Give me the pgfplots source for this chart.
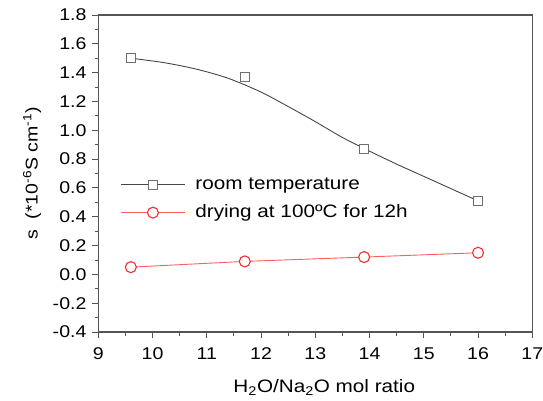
\documentclass[border=0pt]{standalone}
\usepackage{fontspec}
\setmainfont{Liberation Sans}[FakeStretch=1.15]
\usepackage{pgfplots}
\pgfplotsset{compat=1.18}
\definecolor{axgray}{RGB}{85,85,85}
\definecolor{curvegray}{RGB}{70,70,70}
\definecolor{markgray}{RGB}{110,110,110}
\definecolor{linered}{RGB}{255,95,95}
\definecolor{markred}{RGB}{245,45,45}

\begin{document}
\fontsize{17bp}{20bp}\selectfont
\begin{tikzpicture}
\begin{axis}[
    name=ax,
    scale only axis,
    width=434bp, height=317bp,
    xmin=9, xmax=17, ymin=-0.4, ymax=1.8,
    xtick={9,10,11,12,13,14,15,16,17},
    ytick={-0.4,-0.2,0,0.2,0.4,0.6,0.8,1.0,1.2,1.4,1.6,1.8},
    minor x tick num=1, minor y tick num=1,
    tick pos=left, tick align=outside,
    yticklabel style={/pgf/number format/.cd, fixed, fixed zerofill, precision=1},
    xticklabel style={yshift=-4bp},
    /pgf/number format/assume math mode=true,
    axis line style={axgray, line width=1.1bp},
    tick style={axgray, line width=0.9bp},
    major tick length=6bp, minor tick length=3.5bp,
    xlabel={H\textsubscript{2}O/Na\textsubscript{2}O mol ratio},
    xlabel style={yshift=-8bp, xshift=9bp, font=\fontsize{18bp}{21bp}\selectfont},
    ylabel={s\ \ (*10\textsuperscript{-6}S cm\textsuperscript{-1})},
    legend cell align=left,
    legend style={draw=none, fill=none, at={(axis cs:9.35,0.70)}, anchor=north west,
        row sep=9bp, font=\fontsize{18bp}{21bp}\selectfont,
        nodes={inner xsep=10bp}},
    legend image code/.code={\draw[mark repeat=2,mark phase=2,#1] plot coordinates {(0bp,0bp) (32bp,0bp) (64bp,0bp)};},
]
% fitted curve for room temperature
\addplot[curvegray, line width=0.9bp, smooth, tension=0.5, forget plot] coordinates {
    (9.6,1.50) (10.2,1.47) (10.8,1.425) (11.4,1.36) (12.0,1.265) (12.5,1.165)
    (13.0,1.06) (13.5,0.95) (14.0,0.855) (14.5,0.765) (15.0,0.68) (15.5,0.595) (16.0,0.51)
};
\addplot[only marks, mark=square*, mark size=4.5bp,
    mark options={draw=markgray, fill=white, line width=1bp}, forget plot] coordinates {
    (9.6,1.50) (11.7,1.37) (13.9,0.87) (16.0,0.51)
};
\addlegendimage{curvegray, line width=0.9bp, mark=square*, mark size=4.5bp,
    mark options={draw=markgray, fill=white, line width=1bp}}
\addlegendentry{room temperature}
\addplot[linered, line width=0.9bp, mark=*, mark size=5.5bp,
    mark options={draw=markred, fill=white, line width=1.1bp}] coordinates {
    (9.6,0.05) (11.7,0.09) (13.9,0.12) (16.0,0.15)
};
\addlegendentry{drying at 100ºC for 12h}
\end{axis}
\pgfresetboundingbox
\path (ax.south west) ++(-98.3bp,-69bp) rectangle ++(543bp,401bp);
\end{tikzpicture}
\end{document}
